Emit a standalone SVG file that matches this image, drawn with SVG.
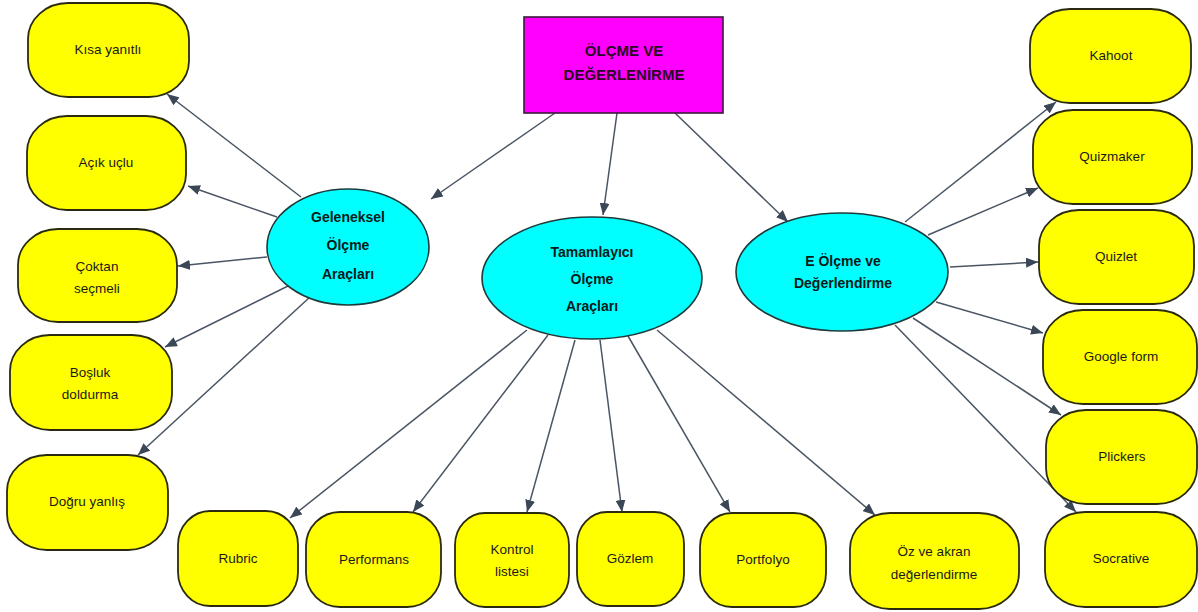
<svg xmlns="http://www.w3.org/2000/svg" width="1198" height="612" viewBox="0 0 1198 612">
<defs>
<marker id="ah" viewBox="0 0 12 10" refX="12" refY="5" markerWidth="12" markerHeight="10" markerUnits="userSpaceOnUse" orient="auto">
<path d="M0,0 L12,5 L0,10 z" fill="#3b4756"/>
</marker>
<style>
.box{fill:#ffff00;stroke:#2a2a10;stroke-width:1.8}
.ell{fill:#00ffff;stroke:#1f3a3a;stroke-width:1.6}
.top{fill:#ff00ff;stroke:#3a1a3a;stroke-width:1.6}
.t{font-family:"Liberation Sans",Arial,sans-serif;font-size:13.5px;fill:#1a1a1a;text-anchor:middle}
.b{font-family:"Liberation Sans",Arial,sans-serif;font-size:14px;font-weight:bold;fill:#0a1a1a;text-anchor:middle}
.h{font-family:"Liberation Sans",Arial,sans-serif;font-size:15px;font-weight:bold;fill:#2a0a24;text-anchor:middle}
.c line{stroke:#4a5563;stroke-width:1.5;marker-end:url(#ah)}
</style>
</defs>
<rect width="1198" height="612" fill="#ffffff"/>
<g class="c" id="connectors">
<line x1="555" y1="113" x2="431" y2="199"/>
<line x1="617" y1="113" x2="603" y2="215"/>
<line x1="675" y1="113" x2="788" y2="222"/>
<line x1="301" y1="197" x2="167" y2="94"/>
<line x1="277" y1="217" x2="188" y2="186"/>
<line x1="267" y1="257" x2="178" y2="266"/>
<line x1="288" y1="286" x2="165" y2="347"/>
<line x1="310" y1="297" x2="138" y2="455"/>
<line x1="527" y1="330" x2="290" y2="518"/>
<line x1="548" y1="335" x2="413" y2="512"/>
<line x1="575" y1="340" x2="527" y2="512"/>
<line x1="600" y1="340" x2="622" y2="512"/>
<line x1="628" y1="336" x2="730" y2="512"/>
<line x1="657" y1="330" x2="875" y2="515"/>
<line x1="905" y1="222" x2="1056" y2="102"/>
<line x1="928" y1="235" x2="1038" y2="188"/>
<line x1="950" y1="267" x2="1038" y2="262"/>
<line x1="936" y1="302" x2="1043" y2="333"/>
<line x1="913" y1="318" x2="1061" y2="415"/>
<line x1="895" y1="325" x2="1076" y2="512"/>
</g>
<g id="olcme-degerlendirme">
<rect class="top" x="524" y="17" width="199" height="96"/>
<text class="h" x="624" y="56">ÖLÇME VE</text>
<text class="h" x="624" y="80">DEĞERLENİRME</text>
</g>
<g id="geleneksel">
<ellipse class="ell" cx="348" cy="247" rx="81" ry="58"/>
<text class="b" x="348" y="222">Geleneksel</text>
<text class="b" x="348" y="250">Ölçme</text>
<text class="b" x="348" y="279">Araçları</text>
</g>
<g id="tamamlayici">
<ellipse class="ell" cx="592" cy="278" rx="110" ry="61"/>
<text class="b" x="592" y="257">Tamamlayıcı</text>
<text class="b" x="592" y="284">Ölçme</text>
<text class="b" x="592" y="311">Araçları</text>
</g>
<g id="e-olcme">
<ellipse class="ell" cx="842" cy="272" rx="106" ry="59"/>
<text class="b" x="843" y="266">E Ölçme ve</text>
<text class="b" x="843" y="288">Değerlendirme</text>
</g>
<g id="kisa-yanitli"><rect class="box" x="28" y="3" width="161" height="94" rx="40" ry="36"/><text class="t" x="108" y="54">Kısa yanıtlı</text></g>
<g id="acik-uclu"><rect class="box" x="27" y="116" width="159" height="94" rx="40" ry="36"/><text class="t" x="106" y="167">Açık uçlu</text></g>
<g id="coktan-secmeli"><rect class="box" x="18" y="229" width="159" height="93" rx="40" ry="36"/><text class="t" x="97" y="271">Çoktan</text><text class="t" x="97" y="293">seçmeli</text></g>
<g id="bosluk-doldurma"><rect class="box" x="10" y="335" width="162" height="95" rx="40" ry="36"/><text class="t" x="90" y="377">Boşluk</text><text class="t" x="90" y="399">doldurma</text></g>
<g id="dogru-yanlis"><rect class="box" x="7" y="455" width="161" height="95" rx="40" ry="36"/><text class="t" x="87" y="506">Doğru yanlış</text></g>
<g id="rubric"><rect class="box" x="178" y="511" width="120" height="95" rx="32" ry="34"/><text class="t" x="238" y="563">Rubric</text></g>
<g id="performans"><rect class="box" x="306" y="512" width="135" height="95" rx="34" ry="34"/><text class="t" x="374" y="564">Performans</text></g>
<g id="kontrol-listesi"><rect class="box" x="455" y="513" width="114" height="94" rx="30" ry="32"/><text class="t" x="512" y="554">Kontrol</text><text class="t" x="512" y="576">listesi</text></g>
<g id="gozlem"><rect class="box" x="577" y="512" width="107" height="94" rx="30" ry="32"/><text class="t" x="630" y="563">Gözlem</text></g>
<g id="portfolyo"><rect class="box" x="700" y="513" width="126" height="94" rx="32" ry="34"/><text class="t" x="763" y="564">Portfolyo</text></g>
<g id="oz-akran"><rect class="box" x="850" y="513" width="169" height="96" rx="40" ry="36"/><text class="t" x="934" y="556">Öz ve akran</text><text class="t" x="934" y="579">değerlendirme</text></g>
<g id="kahoot"><rect class="box" x="1030" y="9" width="161" height="94" rx="40" ry="36"/><text class="t" x="1111" y="60">Kahoot</text></g>
<g id="quizmaker"><rect class="box" x="1033" y="110" width="159" height="94" rx="40" ry="36"/><text class="t" x="1112" y="161">Quizmaker</text></g>
<g id="quizlet"><rect class="box" x="1039" y="210" width="155" height="94" rx="40" ry="36"/><text class="t" x="1116" y="261">Quizlet</text></g>
<g id="google-form"><rect class="box" x="1043" y="310" width="154" height="94" rx="40" ry="36"/><text class="t" x="1121" y="361">Google form</text></g>
<g id="plickers"><rect class="box" x="1046" y="410" width="151" height="94" rx="40" ry="36"/><text class="t" x="1122" y="461">Plickers</text></g>
<g id="socrative"><rect class="box" x="1045" y="512" width="152" height="95" rx="40" ry="36"/><text class="t" x="1121" y="563">Socrative</text></g>
</svg>
